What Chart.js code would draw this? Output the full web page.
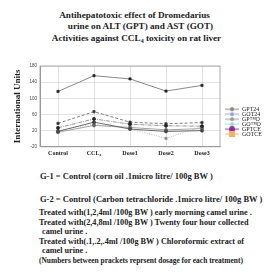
<!DOCTYPE html>
<html>
<head>
<meta charset="utf-8">
<script src="https://cdn.jsdelivr.net/npm/chart.js@4.4.1/dist/chart.umd.min.js"></script>
<style>
  html, body { margin: 0; padding: 0; background: #fff; }
  #wrap { position: relative; width: 279px; height: 280px; overflow: hidden; background: #fff; }
  .t { position: absolute; left: 0; width: 279px; text-align: center; font-family: "Liberation Serif", serif; font-weight: bold; font-size: 9.2px; line-height: 10px; color: #222; white-space: nowrap; }
  .f { position: absolute; font-family: "Liberation Serif", serif; font-weight: bold; color: #222; white-space: nowrap; line-height: 9px; }
  #cv { position: absolute; left: 0; top: 56px; }
  sub { font-size: 6px; vertical-align: -2px; line-height: 0; }
</style>
</head>
<body>
<div id="wrap">
  <div class="t" style="top:10px; left:-5px;">Antihepatotoxic effect of Dromedarius</div>
  <div class="t" style="top:21px; left:1px;">urine on ALT (GPT) and AST (GOT)</div>
  <div class="t" style="top:33px; left:-3px;">Activities against CCL<sub>4</sub> toxicity on rat liver</div>
  <canvas id="cv" width="279" height="104"></canvas>
  <div class="f" style="left:40px; top:172px; font-size:8.5px;">G-1 = Control (corn oil .1micro litre/ 100g BW )</div>
  <div class="f" style="left:40px; top:195px; font-size:8.5px;">G-2 = Control (Carbon tetrachloride .1micro litre/ 100g BW )</div>
  <div class="f" style="left:39px; top:208px; font-size:8.2px;">Treated with(1,2,4ml /100g BW ) early morning camel urine .</div>
  <div class="f" style="left:39px; top:218px; font-size:8.2px;">Treated with(2,4,8ml /100g BW ) Twenty four hour collected</div>
  <div class="f" style="left:42px; top:227px; font-size:8.2px;">camel urine .</div>
  <div class="f" style="left:39px; top:237px; font-size:8.2px;">Treated with(.1,.2,.4ml /100g BW ) Chloroformic extract of</div>
  <div class="f" style="left:42px; top:246px; font-size:8.2px;">camel urine .</div>
  <div class="f" style="left:39px; top:256px; font-size:7.45px;">(Numbers between prackets reprsent dosage for each treatment)</div>
</div>
<script>
// ---- data ----
const categories = ["Control", "CCL\u2084", "Dose1", "Dose2", "Dose3"];
const seriesNames = ["GPT24", "GOT24", "GP\u2122O", "GO\u2122O", "GPTCE", "GOTCE"];
const gpt24 = [27, 49, 36, 32, 31];
const got24 = [117, 156, 148, 118, 132];
const gptmo = [18, 41, 24, 18, 20];
const gotmo = [38, 67, 41, 37, 40];
const gptce = [16, 33, 28, 22, 25];
const gotce = [21, 36, 25, 1, 30];
const yTicks = { min: -20, max: 180, step: 20 };

// ---- styles ----
const lineColors = ["#8a8a8a", "#7c7c7c", "#5e5e5e", "#6e6e6e", "#9c9c9c", "#b4b4b4"];
const pointColors = ["#222", "#222", "#444", "#333", "#666", "#888"];
const pointStyles = ["circle", "rect", "circle", "rect", "circle", "rect"];
const dashes = [[4, 1, 1, 1], [], [], [3, 2], [], [1, 1.5]];
const legendColors = ["#8c7f7f", "#9aa3c8", "#9a9a9a", "#9fd9d2", "#8a2f8a", "#f0b070"];
const legendDot = ["circle", "circle", "circle", "circle", "big", "rect"];

const allData = [gpt24, got24, gptmo, gotmo, gptce, gotce];

function legendIcon(color, dot) {
  const c = document.createElement("canvas");
  c.width = 20; c.height = 6;
  const g = c.getContext("2d");
  g.strokeStyle = color; g.lineWidth = 1;
  g.beginPath(); g.moveTo(6, 3); g.lineTo(20, 3); g.stroke();
  g.fillStyle = color;
  if (dot === "rect") { g.fillRect(10, 0, 6, 6); }
  else { g.beginPath(); g.arc(13, 3, dot === "big" ? 3 : 2, 0, Math.PI * 2); g.fill(); }
  return c;
}
const icons = legendColors.map((c, i) => legendIcon(c, legendDot[i]));

const datasets = seriesNames.map((name, i) => ({
  label: name,
  data: allData[i],
  borderColor: lineColors[i],
  backgroundColor: pointColors[i],
  borderWidth: 0.9,
  borderDash: dashes[i],
  pointStyle: pointStyles[i],
  pointRadius: 1.6,
  pointBackgroundColor: pointColors[i],
  pointBorderColor: pointColors[i],
  pointBorderWidth: 0.6,
  tension: 0,
  fill: false
}));

const frame = {
  id: "frame",
  afterDraw(chart) {
    const a = chart.chartArea, ctx = chart.ctx;
    ctx.save();
    ctx.strokeStyle = "#9a9a9a";
    ctx.lineWidth = 0.8;
    ctx.strokeRect(a.left, a.top, a.right - a.left, a.bottom - a.top);
    ctx.restore();
  }
};

new Chart(document.getElementById("cv"), {
  type: "line",
  data: { labels: categories, datasets },
  plugins: [frame],
  options: {
    responsive: false,
    animation: false,
    layout: { padding: { top: 10, bottom: 0, left: 0, right: 7 } },
    scales: {
      x: {
        offset: true,
        grid: { color: "#d6d6d6", lineWidth: 0.7, tickLength: 0 },
        border: { color: "#9a9a9a" },
        ticks: { padding: 3, color: "#222", font: { family: "Liberation Serif", size: 6, weight: "bold" } }
      },
      y: {
        min: yTicks.min, max: yTicks.max,
        grid: { color: "#d6d6d6", lineWidth: 0.7, tickLength: 0 },
        border: { color: "#9a9a9a" },
        ticks: { stepSize: yTicks.step, padding: 3, color: "#444", font: { family: "Liberation Sans", size: 4.5 } },
        title: { display: true, text: "International Units", color: "#222", padding: { top: 12, bottom: 0 }, font: { family: "Liberation Serif", size: 9, weight: "bold" } },
        afterFit(s) { s.width = 40; }
      }
    },
    plugins: {
      legend: {
        position: "right",
        align: "start",
        fullSize: false,
        title: { display: true, text: " ", padding: { top: 34, bottom: 0 }, font: { size: 6 } },
        labels: {
          usePointStyle: true,
          pointStyleWidth: 20,
          padding: -1,
          color: "#222",
          font: { family: "Liberation Serif", size: 6 },
          generateLabels(chart) {
            return chart.data.datasets.map((d, i) => ({
              text: d.label,
              fillStyle: legendColors[i],
              strokeStyle: legendColors[i],
              pointStyle: icons[i],
              lineWidth: 0,
              hidden: false,
              datasetIndex: i,
              fontColor: "#222"
            }));
          }
        }
      },
      tooltip: { enabled: false }
    }
  }
});
</script>
</body>
</html>
